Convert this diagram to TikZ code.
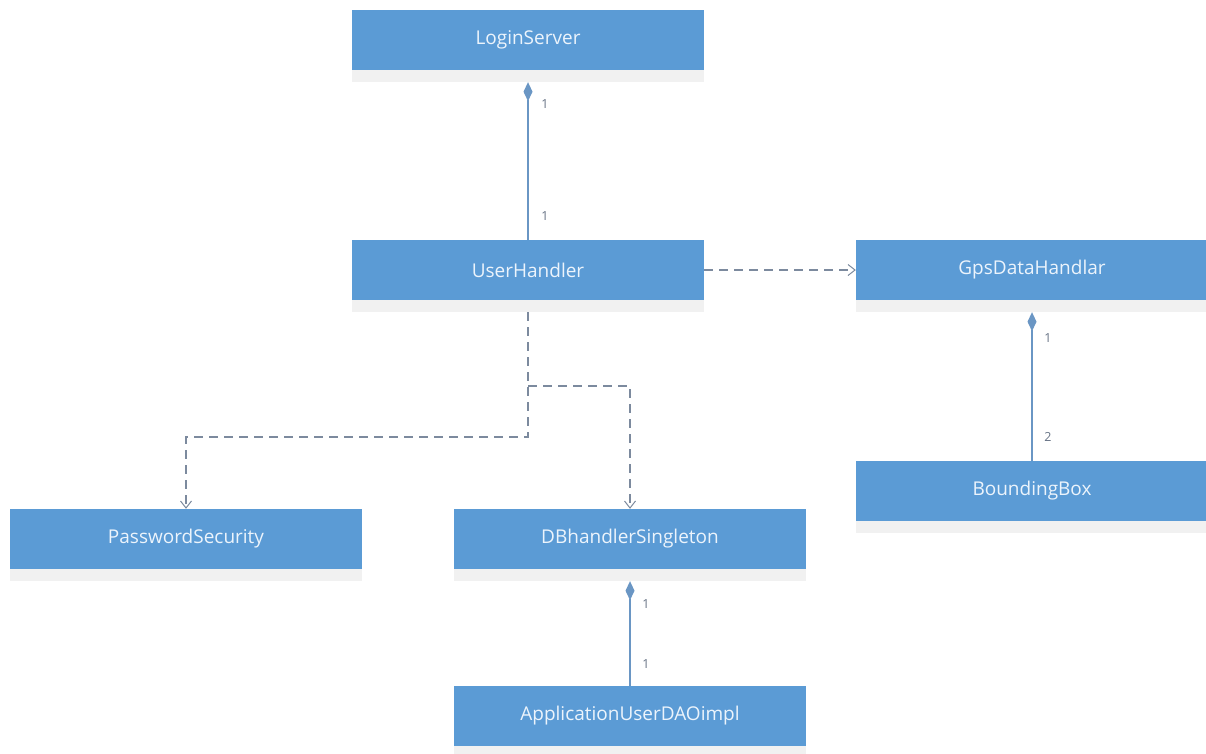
\documentclass[tikz,border=0pt]{standalone}
\usepackage{fontspec}
\setmainfont{Open Sans}
\usetikzlibrary{arrows.meta}
\definecolor{classblue}{RGB}{91,155,213}
\definecolor{classtext}{RGB}{236,244,252}
\definecolor{stripgray}{RGB}{241,241,241}
\definecolor{compline}{RGB}{106,150,196}
\definecolor{depline}{RGB}{124,138,158}
\definecolor{multtext}{RGB}{104,116,134}
\tikzset{
  x=1pt, y=-1pt,
  umlclass/.style={rectangle, fill=classblue, text=classtext, inner sep=0pt,
    minimum width=352pt, minimum height=60pt, font=\fontsize{19}{22}\selectfont},
  compose/.style={draw=compline, line width=1.4pt,
    {Diamond[length=19pt,width=9pt,fill=compline]}-},
  depends/.style={draw=depline, line width=1.1pt, dash pattern=on 9pt off 6pt,
    -{Straight Barb[length=7pt,width=11pt,line width=1pt]}},
  mult/.style={text=multtext, font=\fontsize{12.5}{14}\selectfont, inner sep=0pt},
}
\begin{document}
\begin{tikzpicture}
\useasboundingbox (0,0) rectangle (1206,753);
\fill[white] (0,0) rectangle (1206,753);

% classes
\node[umlclass] (login) at (528,40)  {LoginServer};
\node[umlclass] (user)  at (528,270) {UserHandler};
\node[umlclass] (gps)   at (1032,270) {GpsDataHandlar};
\node[umlclass] (bbox)  at (1032,491) {BoundingBox};
\node[umlclass] (pwd)   at (186,539) {PasswordSecurity};
\node[umlclass] (db)    at (630,539) {DBhandlerSingleton};
\node[umlclass] (dao)   at (630,716) {ApplicationUserDAOimpl};

% empty attribute compartment under each class
\foreach \n in {login,user,gps,bbox,pwd,db,dao}
  \fill[stripgray] (\n.south west) rectangle ([yshift=-12pt]\n.south east);

% compositions
\draw[compose] ([yshift=-12pt]login.south) -- (user.north);
\node[mult] at (545,104) {1};
\node[mult] at (545,216) {1};

\draw[compose] ([yshift=-12pt]gps.south) -- (bbox.north);
\node[mult] at (1048,338) {1};
\node[mult] at (1048,437) {2};

\draw[compose] ([yshift=-12pt]db.south) -- (dao.north);
\node[mult] at (646,604) {1};
\node[mult] at (646,664) {1};

% dependencies
\draw[depends] (user.east) -- (gps.west);

\coordinate (fork) at (528,386);
\draw[depends] ([yshift=-12pt]user.south) -- (528,437) -| (pwd.north);
\draw[depends] (fork) -| (db.north);
\end{tikzpicture}
\end{document}
